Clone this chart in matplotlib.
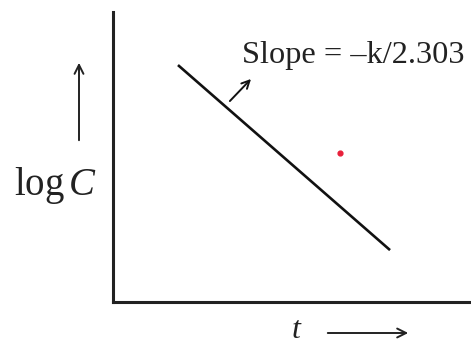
import matplotlib
matplotlib.use("Agg")
import matplotlib.pyplot as plt

# schematic first-order plot: log C against t
t_vals = [1.82, 7.76]
logc_vals = [8.17, 1.79]
dot_t = [6.36]
dot_logc = [5.14]
slope_label = "Slope = \u2013k/2.303"

plt.rcParams['mathtext.fontset'] = 'custom'
plt.rcParams['mathtext.rm'] = 'Liberation Serif'
plt.rcParams['mathtext.it'] = 'Liberation Serif:italic'

fig = plt.figure(figsize=(4.71, 3.43), dpi=100)
ax = fig.add_axes([113 / 471, 41 / 343, 357 / 471, 290 / 343])
ax.set_xlim(0, 10)
ax.set_ylim(0, 10)

for side in ['top', 'right']:
    ax.spines[side].set_visible(False)
for side in ['left', 'bottom']:
    ax.spines[side].set_linewidth(2.2)
    ax.spines[side].set_color('#222222')
ax.set_xticks([])
ax.set_yticks([])

ax.plot(t_vals, logc_vals, color='#111111', linewidth=1.9, solid_capstyle='butt')
ax.scatter(dot_t, dot_logc, color='#e8203a', s=12, zorder=3)

# arrow pointing to the line with the slope text
ax.annotate('', xy=(3.92, 7.76), xytext=(3.22, 6.86),
            arrowprops=dict(arrowstyle='->', color='#111111', lw=1.4,
                            mutation_scale=14))
ax.text(3.62, 8.5, slope_label, fontsize=23.3, family='Liberation Serif',
        ha='left', va='center', color='#222222')

# y label with up arrow
fig.text(55 / 471, 1 - 186 / 343, r'$\mathrm{log}\,C$', fontsize=28,
         ha='center', va='center', color='#222222')
fig.patches.append(matplotlib.patches.FancyArrowPatch(
    (79 / 471, 1 - 143 / 343), (79 / 471, 1 - 60 / 343),
    transform=fig.transFigure, arrowstyle='->', mutation_scale=16,
    color='#222222', lw=1.4))

# x label with right arrow
fig.text(296 / 471, 1 - 330 / 343, 't', fontsize=23, family='Liberation Serif',
         style='italic', ha='center', va='center', color='#222222')
fig.patches.append(matplotlib.patches.FancyArrowPatch(
    (325 / 471, 1 - 333 / 343), (411 / 471, 1 - 333 / 343),
    transform=fig.transFigure, arrowstyle='->', mutation_scale=16,
    color='#222222', lw=1.4))

fig.savefig('out.png', dpi=100, facecolor='white')
